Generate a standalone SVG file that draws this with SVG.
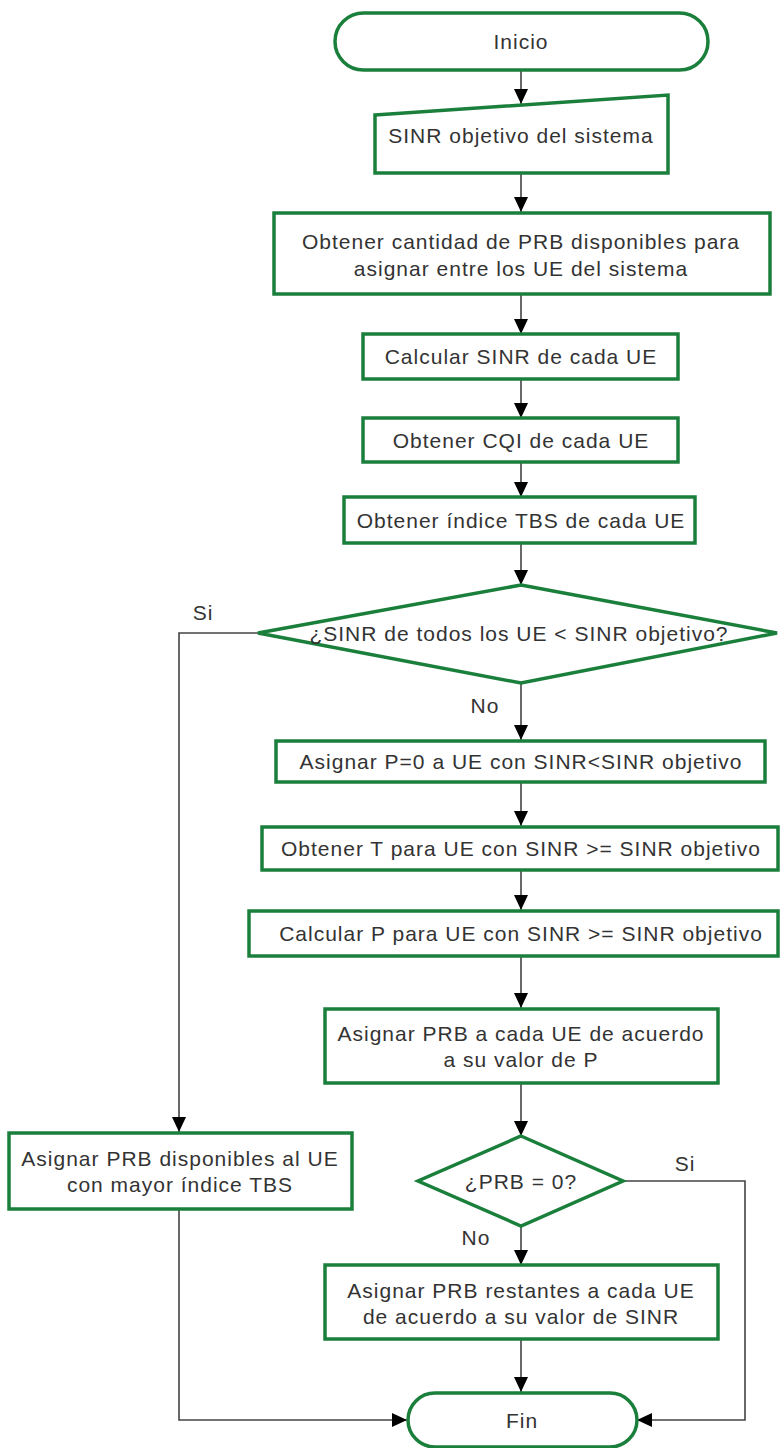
<svg xmlns="http://www.w3.org/2000/svg" width="780" height="1448" viewBox="0 0 780 1448">
  <style>
    .shape { fill: #ffffff; stroke: #1b7f3c; stroke-width: 3.5; }
    .edge { fill: none; stroke: #444444; stroke-width: 1.6; }
    text { font-family: "Liberation Sans", Arial, sans-serif; font-size: 21px; letter-spacing: 1px; fill: #333333; text-anchor: middle; dominant-baseline: central; }
  </style>
  <defs>
    <marker id="arrow" viewBox="0 0 15 14" refX="15" refY="7" markerWidth="15" markerHeight="14" markerUnits="userSpaceOnUse" orient="auto">
      <path d="M0,0 L15,7 L0,14 Z" fill="#000000"/>
    </marker>
  </defs>

  <rect width="780" height="1448" fill="#ffffff"/>

  <!-- connectors -->
  <g id="connectors">
    <line class="edge" x1="521" y1="70" x2="521" y2="104" marker-end="url(#arrow)"/>
    <line class="edge" x1="521" y1="173" x2="521" y2="212" marker-end="url(#arrow)"/>
    <line class="edge" x1="521" y1="294" x2="521" y2="334" marker-end="url(#arrow)"/>
    <line class="edge" x1="521" y1="379" x2="521" y2="418" marker-end="url(#arrow)"/>
    <line class="edge" x1="521" y1="462" x2="521" y2="497" marker-end="url(#arrow)"/>
    <line class="edge" x1="521" y1="543" x2="521" y2="585" marker-end="url(#arrow)"/>
    <line class="edge" x1="521" y1="683" x2="521" y2="740" marker-end="url(#arrow)"/>
    <line class="edge" x1="521" y1="782" x2="521" y2="826" marker-end="url(#arrow)"/>
    <line class="edge" x1="521" y1="870" x2="521" y2="910" marker-end="url(#arrow)"/>
    <line class="edge" x1="521" y1="956" x2="521" y2="1008" marker-end="url(#arrow)"/>
    <line class="edge" x1="521" y1="1083" x2="521" y2="1136" marker-end="url(#arrow)"/>
    <line class="edge" x1="521" y1="1226" x2="521" y2="1265" marker-end="url(#arrow)"/>
    <line class="edge" x1="521" y1="1339" x2="521" y2="1392" marker-end="url(#arrow)"/>
    <polyline class="edge" points="258,633 179,633 179,1132" marker-end="url(#arrow)"/>
    <polyline class="edge" points="179,1209 179,1420 407,1420" marker-end="url(#arrow)"/>
    <polyline class="edge" points="623,1181 745,1181 745,1420 637,1420" marker-end="url(#arrow)"/>
    <text x="203" y="612">Si</text>
    <text x="485" y="705">No</text>
    <text x="685" y="1163">Si</text>
    <text x="476" y="1237">No</text>
  </g>

  <g id="inicio">
    <rect class="shape" x="335" y="13" width="373" height="57" rx="28.5"/>
    <text x="521" y="41">Inicio</text>
  </g>

  <g id="sinr-objetivo">
    <polygon class="shape" points="375,115 668,95 668,173 375,173"/>
    <text x="521" y="135">SINR objetivo del sistema</text>
  </g>

  <g id="obtener-prb">
    <rect class="shape" x="274" y="213" width="496" height="81"/>
    <text x="521" y="241">Obtener cantidad de PRB disponibles para</text>
    <text x="521" y="268">asignar entre los UE del sistema</text>
  </g>

  <g id="calcular-sinr">
    <rect class="shape" x="363" y="334" width="315" height="45"/>
    <text x="521" y="356">Calcular SINR de cada UE</text>
  </g>

  <g id="obtener-cqi">
    <rect class="shape" x="363" y="418" width="315" height="44"/>
    <text x="521" y="440">Obtener CQI de cada UE</text>
  </g>

  <g id="obtener-tbs">
    <rect class="shape" x="344" y="497" width="351" height="46"/>
    <text x="521" y="520">Obtener índice TBS de cada UE</text>
  </g>

  <g id="decision-sinr">
    <polygon class="shape" points="521,585 777,633 521,683 258,633"/>
    <text x="519" y="633">¿SINR de todos los UE &lt; SINR objetivo?</text>
  </g>

  <g id="asignar-p0">
    <rect class="shape" x="276" y="741" width="489" height="41"/>
    <text x="521" y="761">Asignar P=0 a UE con SINR&lt;SINR objetivo</text>
  </g>

  <g id="obtener-t">
    <rect class="shape" x="262" y="827" width="516" height="43"/>
    <text x="521" y="848">Obtener T para UE con SINR &gt;= SINR objetivo</text>
  </g>

  <g id="calcular-p">
    <rect class="shape" x="249" y="911" width="529" height="45"/>
    <text x="521" y="933">Calcular P para UE con SINR &gt;= SINR objetivo</text>
  </g>

  <g id="asignar-prb-p">
    <rect class="shape" x="325" y="1009" width="393" height="74"/>
    <text x="521" y="1033">Asignar PRB a cada UE de acuerdo</text>
    <text x="521" y="1059">a su valor de P</text>
  </g>

  <g id="asignar-prb-tbs">
    <rect class="shape" x="9" y="1133" width="343" height="76"/>
    <text x="180" y="1158">Asignar PRB disponibles al UE</text>
    <text x="180" y="1184">con mayor índice TBS</text>
  </g>

  <g id="decision-prb">
    <polygon class="shape" points="521,1136 623,1181 521,1226 418,1181"/>
    <text x="521" y="1181">¿PRB = 0?</text>
  </g>

  <g id="asignar-prb-restantes">
    <rect class="shape" x="325" y="1265" width="393" height="74"/>
    <text x="521" y="1290">Asignar PRB restantes a cada UE</text>
    <text x="521" y="1316">de acuerdo a su valor de SINR</text>
  </g>

  <g id="fin">
    <rect class="shape" x="408" y="1393" width="229" height="54" rx="27"/>
    <text x="522" y="1420">Fin</text>
  </g>
</svg>
